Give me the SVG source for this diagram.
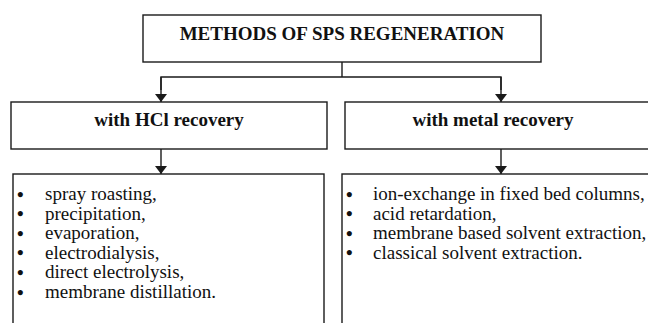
<svg xmlns="http://www.w3.org/2000/svg" width="648" height="323" viewBox="0 0 648 323">
  <defs>
    <marker id="arr" viewBox="0 0 8 12" refX="8" refY="6" markerWidth="8" markerHeight="12" markerUnits="userSpaceOnUse" orient="auto">
      <path d="M0,0 L8,6 L0,12 Z" fill="#1a1a1a"/>
    </marker>
    <style>
      .box { fill: #ffffff; stroke: #1a1a1a; stroke-width: 1.4; }
      .hd { font-family: "Liberation Serif", "Times New Roman", serif; font-weight: bold; font-size: 19px; fill: #111; text-anchor: middle; }
      .it { font-family: "Liberation Serif", "Times New Roman", serif; font-size: 19px; fill: #111; }
      .bl { font-family: "Liberation Serif", "Times New Roman", serif; font-size: 19px; font-weight: bold; fill: #111; }
      .ln { fill: none; stroke: #1a1a1a; stroke-width: 1.4; }
    </style>
  </defs>
  <rect width="648" height="323" fill="#ffffff"/>

  <g id="connectors">
    <polyline class="ln" points="342,62 342,77"/>
    <polyline class="ln" points="161,90 161,77 501,77 501,90"/>
    <line class="ln" x1="161" y1="77" x2="161" y2="102" marker-end="url(#arr)"/>
    <line class="ln" x1="501" y1="77" x2="501" y2="102" marker-end="url(#arr)"/>
    <line class="ln" x1="161" y1="149" x2="161" y2="174" marker-end="url(#arr)"/>
    <line class="ln" x1="501" y1="149" x2="501" y2="174" marker-end="url(#arr)"/>
  </g>

  <g id="root">
    <rect class="box" x="143" y="15" width="398" height="47"/>
    <text class="hd" x="342" y="40">METHODS OF SPS REGENERATION</text>
  </g>

  <g id="hcl">
    <rect class="box" x="11" y="102" width="316" height="47"/>
    <text class="hd" x="169" y="125.5">with HCl recovery</text>
  </g>

  <g id="metal">
    <rect class="box" x="345" y="102" width="320" height="47"/>
    <text class="hd" x="493" y="125.5">with metal recovery</text>
  </g>

  <g id="hcl-list">
    <rect class="box" x="13" y="174" width="311" height="170"/>
    <g class="bl">
      <text x="17" y="200.5">•</text>
      <text x="17" y="220.1">•</text>
      <text x="17" y="239.7">•</text>
      <text x="17" y="259.3">•</text>
      <text x="17" y="278.9">•</text>
      <text x="17" y="298.5">•</text>
    </g>
    <g class="it">
      <text x="45" y="200">spray roasting,</text>
      <text x="45" y="219.6">precipitation,</text>
      <text x="45" y="239.2">evaporation,</text>
      <text x="45" y="258.8">electrodialysis,</text>
      <text x="45" y="278.4">direct electrolysis,</text>
      <text x="45" y="298">membrane distillation.</text>
    </g>
  </g>

  <g id="metal-list">
    <rect class="box" x="342" y="174" width="330" height="170"/>
    <g class="bl">
      <text x="346" y="200.5">•</text>
      <text x="346" y="220.1">•</text>
      <text x="346" y="239.7">•</text>
      <text x="346" y="259.3">•</text>
    </g>
    <g class="it">
      <text x="373" y="200">ion-exchange in fixed bed columns,</text>
      <text x="373" y="219.6">acid retardation,</text>
      <text x="373" y="239.2">membrane based solvent extraction,</text>
      <text x="373" y="258.8">classical solvent extraction.</text>
    </g>
  </g>
</svg>
